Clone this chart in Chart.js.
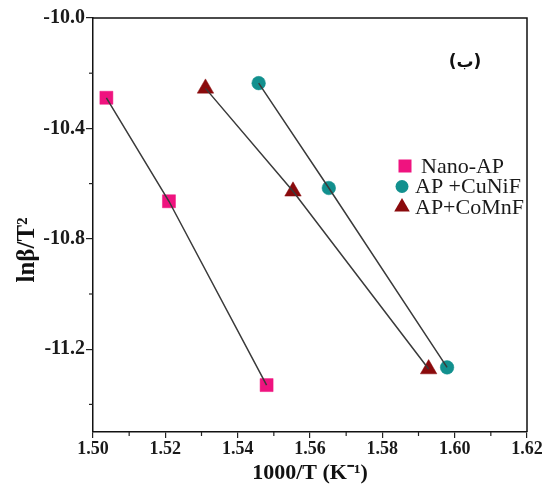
<!DOCTYPE html>
<html>
<head>
<meta charset="utf-8">
<script src="https://cdn.jsdelivr.net/npm/chart.js@4/dist/chart.umd.min.js"></script>
<style>
html,body{margin:0;padding:0;background:#fff;}
#wrap{width:548px;height:494px;}
</style>
</head>
<body>
<div id="wrap"><canvas id="c" width="548" height="494"></canvas></div>
<script>
// ---- data ----
const seriesNames = ["Nano-AP", "AP +CuNiF", "AP+CoMnF"];
const nanoAP_x = [1.5037, 1.5210, 1.5480];
const nanoAP_y = [-10.289, -10.664, -11.330];
const cuNiF_x = [1.5458, 1.5652, 1.5979];
const cuNiF_y = [-10.236, -10.616, -11.266];
const coMnF_x = [1.5311, 1.5553, 1.5928];
const coMnF_y = [-10.255, -10.628, -11.272];
const xTicks = [1.50, 1.52, 1.54, 1.56, 1.58, 1.60, 1.62];
const xMinorTicks = [1.51, 1.53, 1.55, 1.57, 1.59, 1.61];
const yTicks = [-11.2, -10.8, -10.4, -10.0];
const yMinorTicks = [-11.4, -11.0, -10.6, -10.2];
const panelLabel = "(ب)";
const xTitle = "1000/T (K\u207B\u00B9)";
const yTitle = "ln\u03B2/T\u00B2";

const colors = ["#ef137f", "#12908e", "#8a0a0c"];
const styles = ["rect", "circle", "triangle"];
const radii = [9.2, 6.8, 9.5];

function pts(xs, ys){ return xs.map((x,i)=>({x:x, y:ys[i]})); }
const seriesData = [pts(nanoAP_x, nanoAP_y), pts(cuNiF_x, cuNiF_y), pts(coMnF_x, coMnF_y)];

const datasets = [];
seriesData.forEach((d,i)=>{
  datasets.push({label: seriesNames[i], data: d, showLine:false, pointStyle: styles[i], pointRadius: radii[i],
    pointBackgroundColor: colors[i], pointBorderColor: colors[i], pointBorderWidth: 0.5, order: 1});
  datasets.push({label: seriesNames[i] + " fit", data: d, showLine:true, pointRadius:0, borderColor:"#3a3a3a",
    borderWidth:1.5, fill:false, order:0});
});

const SERIF = "'Liberation Serif','Times New Roman',serif";

const extras = {
  id: 'extras',
  afterDraw(chart){
    const ctx = chart.ctx, ca = chart.chartArea;
    const xs = chart.scales.x, ys = chart.scales.y;
    ctx.save();
    // box top/right
    ctx.strokeStyle = '#111'; ctx.lineWidth = 1.5;
    ctx.beginPath();
    ctx.moveTo(ca.left, ca.top); ctx.lineTo(ca.right, ca.top); ctx.lineTo(ca.right, ca.bottom);
    ctx.stroke();
    // minor ticks
    ctx.lineWidth = 1.2; ctx.strokeStyle = '#222';
    xMinorTicks.forEach(v=>{ const px = xs.getPixelForValue(v);
      ctx.beginPath(); ctx.moveTo(px, ca.bottom); ctx.lineTo(px, ca.bottom+4); ctx.stroke(); });
    yMinorTicks.forEach(v=>{ const py = ys.getPixelForValue(v);
      ctx.beginPath(); ctx.moveTo(ca.left, py); ctx.lineTo(ca.left-4, py); ctx.stroke(); });
    // y title
    ctx.save();
    ctx.translate(28, 250);
    ctx.rotate(-Math.PI/2);
    ctx.fillStyle = '#111';
    ctx.font = "bold 25px " + SERIF;
    ctx.textAlign = 'center'; ctx.textBaseline = 'middle';
    ctx.fillText(yTitle, 0, 0);
    ctx.restore();
    // panel label
    ctx.fillStyle = '#111';
    ctx.font = "bold 17px 'DejaVu Sans'";
    ctx.textAlign = 'center'; ctx.textBaseline = 'middle';
    ctx.fillText(panelLabel, 465, 63);
    // legend
    const ly0 = 166, dy = 20.5;
    seriesNames.forEach((name,i)=>{
      const cy = ly0 + i*dy;
      const cx = (i===0) ? 405 : 402;
      ctx.fillStyle = colors[i];
      ctx.beginPath();
      if (styles[i]==='rect'){ ctx.rect(cx-6.5, cy-6.5, 13, 13); }
      else if (styles[i]==='circle'){ ctx.arc(cx, cy, 6.5, 0, Math.PI*2); }
      else { const r=9; ctx.moveTo(cx, cy-r); ctx.lineTo(cx+r*0.866, cy+r/2); ctx.lineTo(cx-r*0.866, cy+r/2); ctx.closePath(); }
      ctx.fill();
      ctx.fillStyle = '#1a1a1a';
      ctx.font = "22px " + SERIF;
      ctx.textAlign = 'left'; ctx.textBaseline = 'middle';
      ctx.fillText(name, i===0 ? 421 : 415, cy+1);
    });
    ctx.restore();
  }
};

new Chart(document.getElementById('c'), {
  type: 'scatter',
  data: { datasets },
  options: {
    responsive: false,
    animation: false,
    devicePixelRatio: 1,
    layout: { padding: { top: 18, right: 21, left: 0, bottom: 0 } },
    plugins: { legend: { display: false }, tooltip: { enabled: false } },
    scales: {
      x: {
        type: 'linear', position: 'bottom', min: 1.50, max: 1.62,
        afterBuildTicks: s => { s.ticks = xTicks.map(v=>({value:v})); },
        afterFit: s => { s.height = 62; },
        grid: { display: true, drawOnChartArea: false, drawTicks: true, tickLength: 6, color: '#222', lineWidth: 1.2 },
        border: { display: true, color: '#111', width: 1.5 },
        ticks: { color: '#1a1a1a', padding: 1, maxRotation: 0, autoSkip: false,
          font: { family: SERIF, size: 18, weight: 'bold' },
          callback: v => Number(v).toFixed(2) },
        title: { display: true, text: xTitle, color: '#111',
          font: { family: SERIF, size: 22, weight: 'bold' }, padding: { top: 0, bottom: 7 } }
      },
      y: {
        type: 'linear', position: 'left', min: -11.5, max: -10.0,
        afterBuildTicks: s => { s.ticks = yTicks.map(v=>({value:v})); },
        afterFit: s => { s.width = 93; },
        grid: { display: true, drawOnChartArea: false, drawTicks: true, tickLength: 7, color: '#222', lineWidth: 1.2 },
        border: { display: true, color: '#111', width: 1.5 },
        ticks: { color: '#1a1a1a', padding: 1, autoSkip: false,
          font: { family: SERIF, size: 20, weight: 'bold' },
          callback: v => Number(v).toFixed(1) },
        title: { display: false }
      }
    }
  },
  plugins: [extras]
});
</script>
</body>
</html>
